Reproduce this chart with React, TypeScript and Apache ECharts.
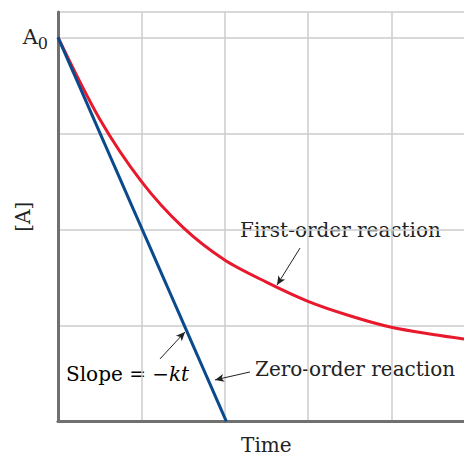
import React, { useEffect, useRef } from "react";
import * as echarts from "echarts";

// Zero-order reaction: [A] falls linearly from A0 to 0
const zeroOrderTime = [0, 2.02];
const zeroOrderConc = [4, 0];

// First-order reaction
const firstOrderTime = [0, 0.5, 1.0, 1.5, 2.0, 2.5, 3.0, 3.5, 4.0, 4.5, 4.9];
const firstOrderConc = [4.0, 3.15, 2.5, 2.02, 1.68, 1.45, 1.25, 1.1, 0.98, 0.905, 0.855];

const yTickLabels: Record<number, string> = { 4: "{a|A}{s|0}" };

const FONT = "DejaVu Serif";

export default function App() {
  const ref = useRef<HTMLDivElement>(null);
  useEffect(() => {
    const chart = echarts.init(ref.current!, null, { renderer: "svg" });
    const axisColor = "#707070";
    chart.setOption({
      animation: false,
      backgroundColor: "#ffffff",
      grid: {
        left: 58,
        top: 12,
        width: 416.7,
        bottom: 35.7,
        containLabel: false,
        outerBoundsMode: "none",
      },
      xAxis: [
        {
          type: "value",
          min: 0,
          max: 5,
          interval: 1,
          name: "Time",
          nameLocation: "middle",
          nameGap: 14,
          nameMoveOverlap: false,
          nameTextStyle: { fontFamily: FONT, fontSize: 20, color: "#222" },
          axisLine: { show: true, onZero: false, lineStyle: { color: axisColor, width: 3 } },
          axisTick: { show: false },
          axisLabel: { show: false },
          splitLine: { show: true, lineStyle: { color: "#cccccc", width: 1.5 } },
        },
        {
          type: "value",
          position: "top",
          min: 0,
          max: 5,
          axisLine: { show: true, lineStyle: { color: axisColor, width: 2.5 } },
          axisTick: { show: false },
          axisLabel: { show: false },
          splitLine: { show: false },
        },
      ],
      yAxis: {
        type: "value",
        min: 0,
        max: 4.264,
        interval: 1,
        name: "[A]",
        nameLocation: "middle",
        nameGap: 25,
        nameMoveOverlap: false,
        nameRotate: 90,
        nameTextStyle: { fontFamily: FONT, fontSize: 20, color: "#222" },
        axisLine: { show: true, onZero: false, lineStyle: { color: axisColor, width: 3 } },
        axisTick: { show: false },
        axisLabel: {
          show: true,
          margin: 10,
          showMaxLabel: false,
          formatter: (v: number) => yTickLabels[v] || "",
          rich: {
            a: { fontFamily: FONT, fontSize: 21, color: "#222" },
            s: { fontFamily: FONT, fontSize: 16, color: "#222", padding: [12, 0, 0, 0] },
          },
        },
        splitLine: { show: true, lineStyle: { color: "#cccccc", width: 1.5 } },
      },
      series: [
        {
          type: "line",
          name: "First-order reaction",
          data: firstOrderTime.map((t, i) => [t, firstOrderConc[i]]),
          smooth: 0.3,
          showSymbol: false,
          lineStyle: { color: "#e8192c", width: 3 },
          markLine: {
            silent: true,
            symbol: ["none", "arrow"],
            symbolSize: [6, 9],
            label: { show: false },
            lineStyle: { color: "#222", width: 1, type: "solid" },
            data: [
              [{ coord: [2.904, 1.805] }, { coord: [2.628, 1.42] }],
              [{ coord: [2.304, 0.514] }, { coord: [1.884, 0.431] }],
              [{ coord: [1.224, 0.65] }, { coord: [1.524, 0.931] }],
            ],
          },
        },
        {
          type: "line",
          name: "Zero-order reaction",
          data: zeroOrderTime.map((t, i) => [t, zeroOrderConc[i]]),
          showSymbol: false,
          lineStyle: { color: "#0a4a8c", width: 3 },
        },
      ],
      graphic: [
        {
          type: "text",
          left: 234,
          top: 215,
          style: {
            text: "First-order reaction",
            font: `20px "${FONT}"`,
            fill: "#222",
            backgroundColor: "#fff",
            padding: [5, 6, 5, 6],
          },
        },
        {
          type: "text",
          left: 249,
          top: 355,
          style: {
            text: "Zero-order reaction",
            font: `20px "${FONT}"`,
            fill: "#222",
            backgroundColor: "#fff",
            padding: [4, 6, 4, 6],
          },
        },
        {
          type: "text",
          left: 62,
          top: 360,
          style: {
            text: "{n|Slope = −}{i|kt}",
            backgroundColor: "#fff",
            padding: [4, 4, 4, 4],
            rich: {
              n: { fontFamily: FONT, fontSize: 20, color: "#222" },
              i: { fontFamily: FONT, fontSize: 20, fontStyle: "italic", color: "#222" },
            },
          },
        },
      ],
    });
    return () => chart.dispose();
  }, []);
  return (
    <div
      ref={ref}
      style={{ position: "fixed", left: 0, top: 0, width: 464, height: 457, background: "#fff" }}
    />
  );
}
